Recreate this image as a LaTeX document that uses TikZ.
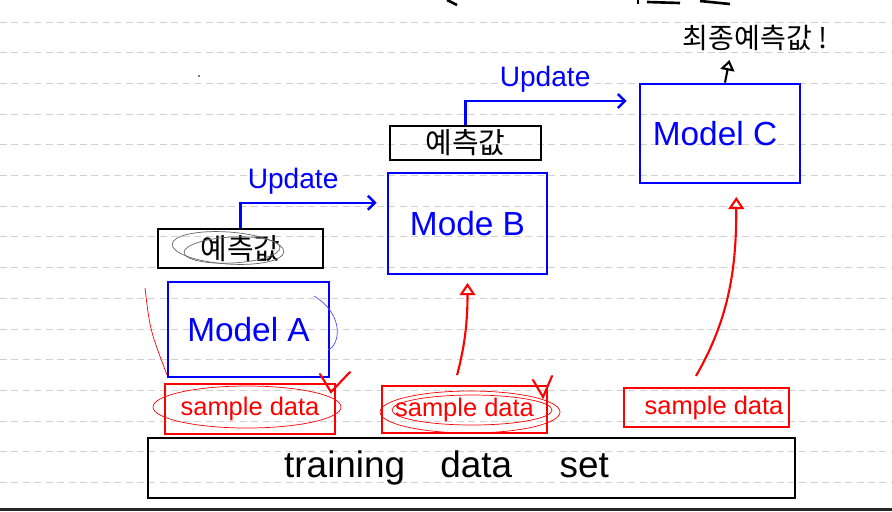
\documentclass[tikz,border=0pt]{standalone}
\usepackage{fontspec}
\setmainfont{Liberation Sans}
\newfontfamily\kor{Noto Sans CJK KR}
\usetikzlibrary{arrows.meta, calc, positioning}

\begin{document}
\begin{tikzpicture}[x=0.02cm, y=0.02cm,
    modelbox/.style={draw=blue, line width=1.6pt, text=blue, font=\fontsize{19}{22}\selectfont, inner sep=0pt},
    predbox/.style={draw=black, line width=1.5pt, font=\kor\fontsize{16.5}{19}\selectfont, inner sep=0pt},
    samplebox/.style={draw=red, line width=1.4pt, text=red, font=\fontsize{14.5}{17}\selectfont, inner sep=0pt},
    upd/.style={draw=blue, line width=1.4pt, -{Straight Barb[length=4pt,width=8pt]}},
    updlabel/.style={text=blue, font=\fontsize{16}{19}\selectfont},
    feed/.style={draw=red, line width=1.2pt, -{Triangle[open,length=7pt,width=9pt]}},
    scribble/.style={line width=0.4pt}]

    % Page and ruled lines
    \useasboundingbox (0,0) rectangle (892,-511);
    \foreach \k in {0,...,15} {
        \draw[black!18, dash pattern=on 4pt off 2.5pt, line width=0.5pt] (0,{-22-30.7*\k}) -- (892,{-22-30.7*\k});
    }
    \fill[black!85] (0,-508) rectangle (892,-511);

    % Cut-off heading strokes
    \draw[line width=1.5pt] (447,0) -- (457,-5);
    \draw[line width=1.5pt] (638,0) -- (638,-4);
    \draw[line width=1.5pt] (647,-2) -- (680,-3);
    \draw[line width=1.5pt] (700,-1) -- (730,-4);
    \fill (199,-76) circle (0.8);

    % Training data set
    \node[draw, line width=1.6pt, minimum width=12.94cm, minimum height=1.2cm] (train) at (471.5,-468) {};
    \node[font=\fontsize{21}{24}\selectfont, xshift=-0.5cm] (trainTxt) at (train) {training\hspace{20pt}data\hspace{27pt}set};

    % Stage A
    \node[predbox, minimum width=3.3cm, minimum height=0.78cm] (predA) at (240.5,-248.5) {예측값};
    \node[modelbox, minimum width=3.22cm, minimum height=1.9cm] (modelA) at (248.5,-329.5) {Model A};
    \node[samplebox, minimum width=3.4cm, minimum height=1cm] (sampleA) at (250,-409) {sample data};

    % Stage B
    \node[predbox, minimum width=3.02cm, minimum height=0.68cm] (predB) at (465.5,-143) {예측값};
    \node[modelbox, minimum width=3.18cm, minimum height=2.02cm] (modelB) at (467.5,-223.5) {Mode B};
    \node[samplebox, minimum width=3.3cm, minimum height=0.94cm] (sampleB) at (464.5,-409.5) {sample data};

    % Stage C
    \node[modelbox, minimum width=3.2cm, minimum height=1.98cm] (modelC) at (720,-133.5) {\hspace{-0.2cm}Model C};
    \node[samplebox, minimum width=3.3cm, minimum height=0.78cm] (sampleC) at (706.5,-407.5) {\hspace{0.3cm}sample data};
    \node[font=\kor\fontsize{16}{19}\selectfont] (final) at (755,-38) {최종예측값 !};

    % Update arrows
    \draw[upd, shorten >=0.2cm] (predA.north) |- node[pos=0.68, above=1pt, updlabel] (updA) {Update} ($(modelB.north west)!0.3!(modelB.south west)$);
    \draw[upd, shorten >=0.24cm] (predB.north) |- node[pos=0.73, above=1pt, updlabel] (updB) {Update} ($(modelC.north west)!0.18!(modelC.south west)$);

    % Final output
    \draw[line width=1.2pt, -{Triangle[open,length=6pt,width=8pt]}, shorten >=0.06cm] ([xshift=0.1cm]modelC.north) -- ([xshift=0.2cm]modelC.north |- final.south);

    % Sample data into the next model
    \draw[feed, shorten <=0.2cm, shorten >=0.15cm] ($(sampleB.north west)!0.44!(sampleB.north east)$) to[out=75, in=-90] (modelB.south);
    \draw[feed, shorten <=0.25cm, shorten >=0.25cm] ($(sampleC.north west)!0.4!(sampleC.north east)$) to[out=60, in=-90] ($(modelC.south west)!0.6!(modelC.south east)$);

    % Marks
    \draw[scribble, black!60, rotate around={-4:(228,-248)}] (228,-248) ellipse (56 and 16);
    \draw[scribble, black!60, rotate around={3:(232,-250)}] (232,-250) ellipse (48 and 13);
    \draw[scribble, red] (247,-407) ellipse (94 and 21);
    \draw[scribble, red] (470,-412) ellipse (90 and 21);
    \draw[scribble, red] (472,-410) ellipse (80 and 15);
    \draw[scribble, red] (145,-288) .. controls (150,-330) .. (167,-375);
    \draw[scribble, blue!70] (314,-296) .. controls (345,-315) and (340,-345) .. (328,-350);
    \draw[red, line width=1.2pt, line cap=round] (320,-374) -- (331,-392) -- (350,-372);
    \draw[red, line width=1.2pt, line cap=round] (533,-380) -- (543,-397) -- (552,-376);
\end{tikzpicture}
\end{document}
